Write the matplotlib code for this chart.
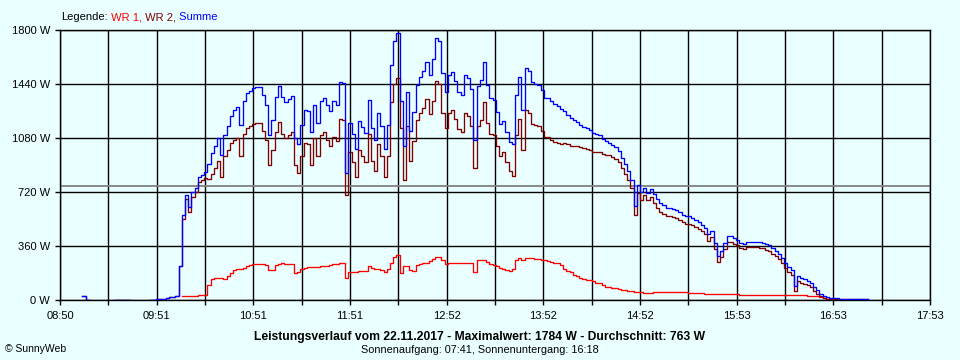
import numpy as np
import matplotlib
matplotlib.use('Agg')
import matplotlib.pyplot as plt
import matplotlib.transforms as mtransforms

plt.rcParams['font.family'] = ['Liberation Sans', 'DejaVu Sans']

nan = np.nan
# sample times in minutes after midnight (every 2 minutes, 09:02 .. 17:14)
minutes = np.arange(542, 1036, 2)

# WR 2 (dark red) in W
wr2 = [
    nan, 25, 0, nan, nan, nan, nan, nan, nan, nan,
    nan, 3, 3, 3, 3, 3, nan, nan, nan, nan,
    nan, nan, 3, 3, 4, 6, 10, 15, 18, 20,
    30, 230, 540, 675, 590, 690, 720, 790, 800, 815,
    810, 840, 880, 930, 820, 960, 1000, 1050, 1065, 1080,
    960, 1110, 1150, 1160, 1175, 1178, 1178, 1130, 1065, 900,
    1000, 1120, 1190, 1110, 1080, 1100, 1120, 900, 850, 960,
    1050, 1040, 900, 1080, 960, 1100, 1120, 1070, 1030, 1090,
    1060, 1210, 1200, 700, 990, 920, 820, 1000, 960, 920,
    1110, 930, 860, 1040, 960, 820, 960, 1320, 1440, 1480,
    1150, 800, 1160, 930, 1060, 1200, 1250, 1280, 1340, 1240,
    1330, 1460, 1440, 1250, 1150, 1250, 1270, 1210, 1140, 1120,
    1250, 1230, 1160, 880, 1160, 1200, 1320, 1180, 1110, 1100,
    1030, 960, 990, 920, 860, 830, 1100, 1210, 1000, 1270,
    1245, 1175, 1165, 1160, 1130, 1085, 1085, 1070, 1055, 1050,
    1040, 1050, 1040, 1030, 1030, 1025, 1020, 1015, 1010, 1000,
    990, 990, 985, 975, 968, 965, 955, 940, 920, 880,
    840, 800, 745, 570, 715, 670, 700, 670, 690, 650,
    615, 590, 575, 560, 558, 552, 545, 532, 518, 508,
    510, 498, 484, 472, 458, 440, 395, 420, 340, 255,
    290, 340, 390, 385, 375, 365, 345, 340, 352, 352,
    352, 352, 348, 345, 335, 328, 310, 295, 276, 245,
    215, 188, 165, 60, 125, 115, 110, 100, 85, 60,
    40, 25, 12, 10, 8, 7, 7, 6, 7, 7,
    7, 6, 6, 6, 6, 6, 6,
]

# WR 1 (red) in W
wr1 = [
    nan, nan, nan, nan, nan, nan, nan, nan, nan, nan,
    nan, nan, nan, nan, nan, nan, nan, nan, nan, nan,
    nan, nan, nan, nan, nan, nan, nan, nan, nan, nan,
    nan, nan, 24, 25, 28, 30, 30, 32, 34, 36,
    100, 140, 147, 147, 150, 140, 160, 180, 200, 205,
    208, 215, 230, 235, 238, 240, 240, 238, 236, 200,
    200, 236, 240, 245, 242, 240, 240, 180, 190, 210,
    215, 218, 220, 222, 220, 225, 228, 230, 232, 238,
    240, 245, 245, 150, 190, 190, 190, 195, 195, 195,
    225, 215, 205, 205, 200, 190, 210, 250, 290, 300,
    180, 230, 225, 200, 195, 236, 240, 245, 250, 262,
    275, 290, 285, 265, 240, 250, 250, 250, 248, 248,
    250, 250, 250, 190, 265, 265, 268, 255, 240, 235,
    225, 215, 205, 200, 195, 210, 270, 280, 270, 280,
    282, 278, 275, 272, 268, 265, 262, 255, 250, 245,
    235, 210, 195, 185, 170, 160, 150, 140, 136, 134,
    125, 115, 112, 100, 90, 85, 80, 78, 75, 70,
    66, 62, 58, 55, 55, 52, 47, 45, 50, 55,
    56, 56, 56, 55, 55, 55, 54, 53, 52, 51,
    50, 49, 48, 46, 44, 43, 42, 42, 41, 40,
    40, 40, 40, 39, 38, 37, 36, 36, 36, 36,
    36, 36, 36, 36, 36, 36, 35, 34, 34, 34,
    33, 33, 33, 32, 32, 32, 32, 30, 28, 26,
    24, 18, 12, 9, 7, 5, 4, 3, nan, nan,
    nan, nan, nan, nan, nan, nan, nan,
]

y_ticks = [0, 360, 720, 1080, 1440, 1800]
x_tick_labels = ['08:50', '09:51', '10:51', '11:51', '12:52', '13:52',
                 '14:52', '15:53', '16:53', '17:53']
x_start, x_end = 530, 1073
average_w = 763
max_w = 1784
date_str = '22.11.2017'
sunrise, sunset = '07:41', '16:18'

wr1_a = np.array(wr1, dtype=float)
wr2_a = np.array(wr2, dtype=float)
summe = wr2_a + np.nan_to_num(wr1_a)

BG = '#EAFFFF'
W, H = 960, 360
fig = plt.figure(figsize=(W / 100, H / 100), dpi=100, facecolor=BG)
ax = fig.add_axes([60 / W, 60 / H, 870 / W, 270 / H])
ax.set_facecolor(BG)

ax.set_xlim(x_start, x_end)
ax.set_ylim(0, 1800)

n_div = 18
xt = [x_start + i * (x_end - x_start) / n_div for i in range(n_div + 1)]
xl = []
for i in range(n_div + 1):
    xl.append(x_tick_labels[i // 2] if i % 2 == 0 else '')
ax.set_xticks(xt)
ax.set_xticklabels(xl)
ax.set_yticks(y_ticks)
ax.set_yticklabels([f'{v} W' for v in y_ticks])

ax.grid(True, color='black', lw=1.0)
ax.set_axisbelow(True)
for s in ax.spines.values():
    s.set_color('black')
    s.set_linewidth(1.0)
ax.tick_params(axis='both', direction='out', length=3.6, width=1.0,
               color='black', labelsize=8, labelcolor='black')
ax.tick_params(axis='x', pad=4)
ax.tick_params(axis='y', pad=3.6)

ax.axhline(average_w, color='#808080', lw=1.3, zorder=1.5)

ax.plot(minutes, wr1_a, color='#FF0000', lw=0.95, drawstyle='steps-post', zorder=3)
ax.plot(minutes, wr2_a, color='#800000', lw=0.95, drawstyle='steps-post', zorder=3)
ax.plot(minutes, summe, color='#0000FF', lw=0.95, drawstyle='steps-post', zorder=3)

# legend at top
fig.canvas.draw()
r = fig.canvas.get_renderer()
ident = mtransforms.IdentityTransform()
x = 61
parts = [('Legende:', 'black'), (' WR 1,', '#FF0000'), (' WR 2,', '#800000'), (' Summe', '#0000FF')]
for s, c in parts:
    t = fig.text(x, H - 17, s, color=c, fontsize=8, ha='left', va='center', transform=ident)
    bb = t.get_window_extent(r)
    x = bb.x1

fig.text(0.5, 1 - 337 / H,
         f'Leistungsverlauf vom {date_str} - Maximalwert: {max_w} W - Durchschnitt: {average_w} W',
         ha='center', va='center', fontsize=8.7, fontweight='bold', color='black')
fig.text(0.5, 1 - 350 / H,
         f'Sonnenaufgang: {sunrise}, Sonnenuntergang: {sunset}',
         ha='center', va='center', fontsize=7.8, color='black')
fig.text(5 / W, 1 - 349 / H, '© SunnyWeb', ha='left', va='center', fontsize=7.5, color='black')

fig.savefig('out.png', dpi=100, facecolor=BG)
